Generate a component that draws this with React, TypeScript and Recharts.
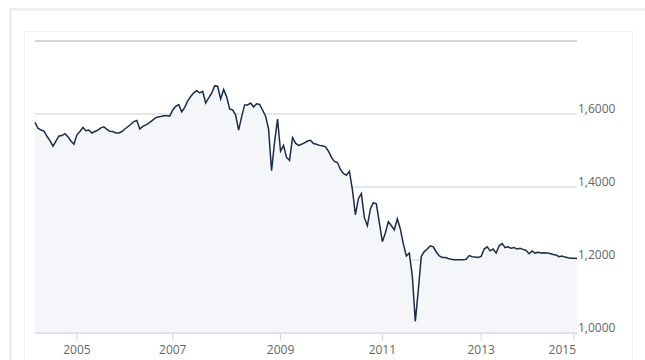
import React from 'react';
import {
  AreaChart,
  Area,
  XAxis,
  YAxis,
  CartesianGrid,
  ReferenceLine,
} from 'recharts';

// Rate samples, grouped by year (evenly spread within each year)
const y2004 = [1.577, 1.561, 1.556, 1.553, 1.539, 1.527, 1.512, 1.526, 1.540, 1.541, 1.546, 1.538, 1.526, 1.517];
const y2005 = [1.543, 1.552, 1.563, 1.554, 1.556, 1.548, 1.552, 1.556, 1.562, 1.565, 1.558, 1.553, 1.552, 1.548, 1.548, 1.552];
const y2006 = [1.559, 1.565, 1.572, 1.579, 1.582, 1.559, 1.566, 1.570, 1.575, 1.581, 1.588, 1.592, 1.593, 1.595, 1.595, 1.594];
const y2007 = [1.611, 1.621, 1.626, 1.606, 1.618, 1.636, 1.648, 1.658, 1.664, 1.658, 1.662, 1.630, 1.644, 1.657, 1.677, 1.676, 1.641, 1.667];
const y2008 = [1.647, 1.614, 1.611, 1.597, 1.556, 1.592, 1.625, 1.625, 1.630, 1.619, 1.628, 1.626, 1.611, 1.594, 1.559, 1.445, 1.523, 1.586];
const y2009 = [1.498, 1.514, 1.481, 1.473, 1.535, 1.520, 1.514, 1.517, 1.521, 1.526, 1.528, 1.519, 1.517, 1.514, 1.513, 1.510, 1.498];
const y2010 = [1.481, 1.470, 1.467, 1.448, 1.437, 1.432, 1.443, 1.393, 1.324, 1.368, 1.382, 1.316, 1.294, 1.340, 1.357, 1.354, 1.302];
const y2011 = [1.250, 1.274, 1.305, 1.294, 1.283, 1.313, 1.285, 1.244, 1.211, 1.219, 1.156, 1.032, 1.117, 1.210, 1.223, 1.230, 1.239];
const y2012 = [1.236, 1.222, 1.211, 1.207, 1.207, 1.204, 1.202, 1.201, 1.201, 1.201, 1.201, 1.202, 1.212, 1.209, 1.208, 1.207];
const y2013 = [1.210, 1.230, 1.236, 1.225, 1.230, 1.219, 1.239, 1.245, 1.234, 1.236, 1.232, 1.234, 1.230, 1.232, 1.229, 1.226];
const y2014 = [1.217, 1.225, 1.219, 1.221, 1.219, 1.220, 1.219, 1.218, 1.215, 1.214, 1.209, 1.211, 1.208, 1.206, 1.205];
const y2015 = [1.205, 1.204];

const years = [2004, 2005, 2006, 2007, 2008, 2009, 2010, 2011, 2012, 2013, 2014, 2015];
const byYear = [y2004, y2005, y2006, y2007, y2008, y2009, y2010, y2011, y2012, y2013, y2014, y2015];

const tickYears = [2005, 2007, 2009, 2011, 2013, 2015];
const yTicks = [1.0, 1.2, 1.4, 1.6];

const data: { t: number; year: number; rate: number }[] = [];
const yearStart: Record<number, number> = {};
byYear.forEach((vals, k) => {
  yearStart[years[k]] = data.length;
  vals.forEach((rate) => data.push({ t: data.length, year: years[k], rate }));
});

const xTicks = tickYears.map((y) => yearStart[y]);
const lastTick = xTicks[xTicks.length - 1];

const font = '"Open Sans", "DejaVu Sans", sans-serif';

const RightTick = (props: any) => {
  const { x, y, payload } = props;
  return (
    <text x={x} y={y - 1} fill="#666" fontSize={12} fontFamily={font} textAnchor="start">
      {payload.value.toFixed(4).replace('.', ',')}
    </text>
  );
};

// last label is pulled inside the plot, like the original
const BottomTick = (props: any) => {
  const { x, y, payload } = props;
  const d = data[payload.value];
  const isLast = payload.value === lastTick;
  return (
    <text
      x={isLast ? x + 2 : x}
      y={y + 12}
      fill="#666"
      fontSize={12}
      fontFamily={font}
      textAnchor={isLast ? 'end' : 'middle'}
    >
      {d ? String(d.year) : ''}
    </text>
  );
};

export default function App() {
  return (
    <div
      style={{
        position: 'fixed',
        left: 0,
        top: 0,
        width: 645,
        height: 360,
        background: '#fff',
        overflow: 'hidden',
      }}
    >
      <div
        style={{
          position: 'absolute',
          left: 9,
          top: 8,
          width: 700,
          height: 400,
          borderTop: '3px solid #efefef',
          borderLeft: '3px solid #efefef',
        }}
      />
      <div
        style={{
          position: 'absolute',
          left: 24,
          top: 31,
          width: 607,
          height: 400,
          border: '1px solid #f0f0f0',
        }}
      />
      <div style={{ position: 'absolute', left: 0, top: 0 }}>
        <AreaChart
          width={645}
          height={360}
          data={data}
          margin={{ top: 41, right: 0, left: 35, bottom: 0 }}
        >
          <CartesianGrid vertical={false} stroke="#cccccc" />
          <XAxis
            dataKey="t"
            type="number"
            domain={[0, data.length - 1]}
            ticks={xTicks}
            interval={0}
            height={27}
            stroke="#ccd6eb"
            tickSize={8}
            tickMargin={1}
            tick={<BottomTick />}
          />
          <YAxis
            orientation="right"
            domain={[1.0, 1.8]}
            ticks={yTicks}
            width={68}
            axisLine={false}
            tickLine={false}
            tickSize={0}
            tickMargin={1}
            tick={<RightTick />}
            allowDataOverflow
          />
          <ReferenceLine y={1.8} stroke="#d4d4d4" strokeWidth={2} />
          <Area
            type="linear"
            dataKey="rate"
            stroke="#1b2c4b"
            strokeWidth={1.5}
            fill="#f5f6f9"
            fillOpacity={1}
            isAnimationActive={false}
            dot={false}
            activeDot={false}
          />
        </AreaChart>
      </div>
    </div>
  );
}
